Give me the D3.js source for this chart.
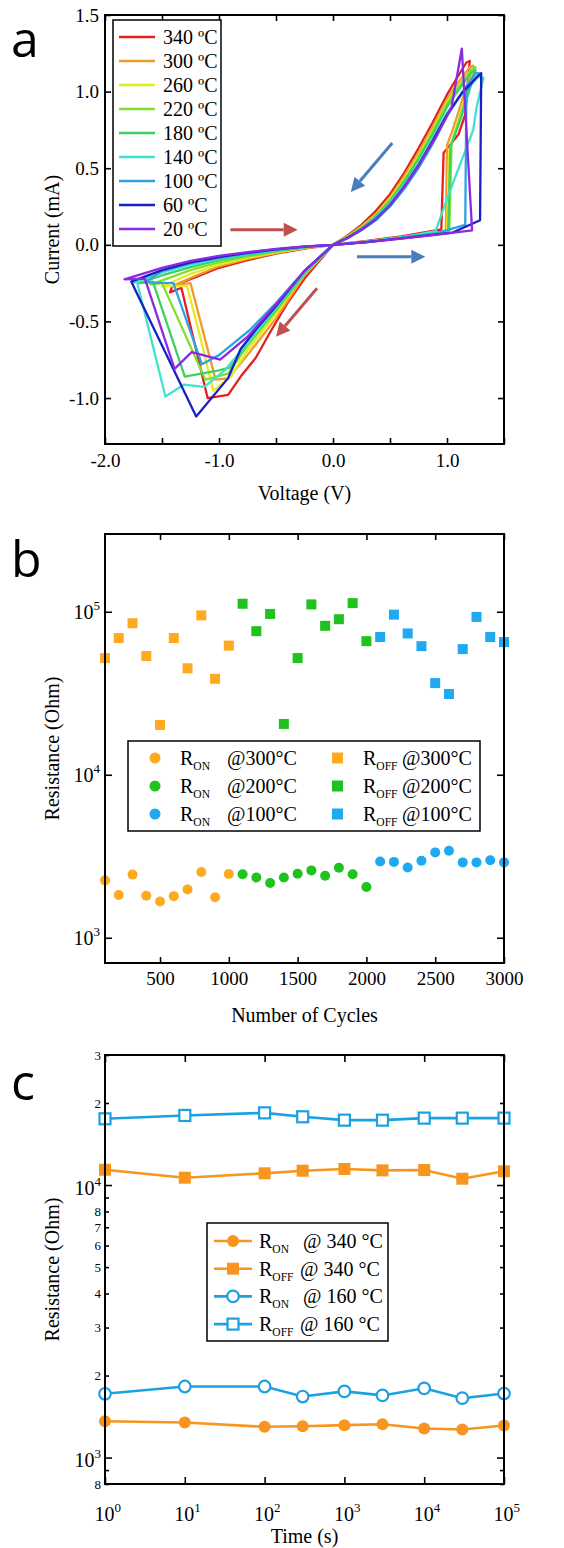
<!DOCTYPE html>
<html>
<head>
<meta charset="utf-8">
<script src="https://cdn.jsdelivr.net/npm/d3@7"></script>
<style>
  body { margin: 0; background: #fff; }
  svg text { font-family: "Liberation Serif", "Times New Roman", serif; fill: #000; }
  svg text.panel { font-family: "Open Sans", sans-serif; }
</style>
</head>
<body>
<script>
// ---------- data ----------
// panel a: I-V loops, [voltage (V), current (mA)]
const ivLabels = ["340 ºC", "300 ºC", "260 ºC", "220 ºC", "180 ºC", "140 ºC", "100 ºC", "60 ºC", "20 ºC"];
const ivCurves = [
  [[0,0],[0.3,0.025],[0.6,0.055],[0.95,0.1],[0.97,0.6],[1.1,0.72],[1.16,0.85],[1.2,1.2],[1.17,1.19],[1.08,1.08],
   [1.0,0.98],[0.875,0.8],[0.75,0.63],[0.625,0.47],[0.5,0.33],[0.375,0.22],[0.25,0.13],[0.125,0.06],[0,0],
   [-0.25,-0.22],[-0.4,-0.38],[-0.54,-0.556],[-0.68,-0.74],[-0.81,-0.86],[-0.92,-0.98],[-1.1,-1.0],[-1.33,-0.28],[-1.43,-0.31],[-1.41,-0.27],
   [-1.2,-0.21],[-1.0,-0.15],[-0.75,-0.1],[-0.5,-0.058],[-0.25,-0.024],[0,0]],
  [[0,0],[0.3,0.022],[0.6,0.05],[0.99,0.085],[1.0,0.65],[1.05,0.75],[1.23,1.17],[1.2,1.16],[1.1,1.06],
   [1.0,0.95],[0.875,0.77],[0.75,0.6],[0.625,0.45],[0.5,0.31],[0.375,0.2],[0.25,0.12],[0.125,0.055],[0,0],
   [-0.25,-0.2],[-0.5,-0.48],[-0.75,-0.72],[-0.92,-0.872],[-1.03,-0.88],[-1.25,-0.25],[-1.38,-0.26],
   [-1.2,-0.2],[-1.0,-0.14],[-0.75,-0.092],[-0.5,-0.054],[-0.25,-0.022],[0,0]],
  [[0,0],[0.3,0.02],[0.6,0.047],[1.0,0.085],[1.02,0.62],[1.08,0.76],[1.24,1.15],[1.21,1.14],[1.1,1.04],
   [1.0,0.93],[0.875,0.75],[0.75,0.58],[0.625,0.43],[0.5,0.3],[0.375,0.195],[0.25,0.115],[0.125,0.052],[0,0],
   [-0.25,-0.19],[-0.5,-0.45],[-0.75,-0.69],[-0.9,-0.862],[-1.05,-0.953],[-1.18,-0.556],[-1.28,-0.27],[-1.5,-0.27],
   [-1.25,-0.19],[-1.0,-0.13],[-0.75,-0.085],[-0.5,-0.05],[-0.25,-0.02],[0,0]],
  [[0,0],[0.3,0.02],[0.6,0.045],[1.02,0.08],[1.04,0.66],[1.1,0.8],[1.25,1.16],[1.22,1.15],[1.1,1.03],
   [1.0,0.92],[0.875,0.74],[0.75,0.57],[0.625,0.42],[0.5,0.29],[0.375,0.19],[0.25,0.11],[0.125,0.05],[0,0],
   [-0.25,-0.19],[-0.5,-0.43],[-0.75,-0.66],[-0.92,-0.84],[-1.12,-0.88],[-1.5,-0.25],[-1.6,-0.26],
   [-1.25,-0.165],[-1.0,-0.115],[-0.75,-0.077],[-0.5,-0.045],[-0.25,-0.018],[0,0]],
  [[0,0],[0.3,0.02],[0.6,0.046],[1.01,0.08],[1.03,0.64],[1.12,0.82],[1.25,1.14],[1.22,1.13],[1.1,1.01],
   [1.0,0.9],[0.875,0.72],[0.75,0.56],[0.625,0.41],[0.5,0.285],[0.375,0.185],[0.25,0.108],[0.125,0.048],[0,0],
   [-0.25,-0.185],[-0.5,-0.42],[-0.75,-0.64],[-0.9,-0.8],[-1.0,-0.82],[-1.3,-0.86],[-1.58,-0.24],[-1.7,-0.25],
   [-1.5,-0.2],[-1.25,-0.145],[-1.0,-0.1],[-0.75,-0.067],[-0.5,-0.04],[-0.25,-0.016],[0,0]],
  [[0,0],[0.3,0.02],[0.6,0.048],[0.9,0.09],[1.0,0.3],[1.23,0.75],[1.26,0.9],[1.32,1.09],[1.28,1.1],[1.15,1.0],
   [1.0,0.86],[0.875,0.69],[0.75,0.53],[0.625,0.39],[0.5,0.27],[0.375,0.175],[0.25,0.1],[0.125,0.045],[0,0],
   [-0.25,-0.18],[-0.5,-0.41],[-0.75,-0.64],[-0.95,-0.82],[-1.13,-0.927],[-1.31,-0.913],[-1.47,-0.99],[-1.72,-0.24],[-1.76,-0.25],
   [-1.5,-0.18],[-1.25,-0.13],[-1.0,-0.09],[-0.75,-0.06],[-0.5,-0.035],[-0.25,-0.014],[0,0]],
  [[0,0],[0.3,0.02],[0.6,0.045],[0.9,0.075],[1.16,0.13],[1.17,1.0],[1.28,1.12],[1.25,1.12],[1.12,0.98],
   [1.0,0.84],[0.875,0.66],[0.75,0.5],[0.625,0.365],[0.5,0.25],[0.375,0.16],[0.25,0.095],[0.125,0.042],[0,0],
   [-0.25,-0.17],[-0.5,-0.38],[-0.73,-0.556],[-1.0,-0.72],[-1.15,-0.78],[-1.4,-0.25],[-1.65,-0.245],
   [-1.5,-0.17],[-1.25,-0.12],[-1.0,-0.085],[-0.75,-0.055],[-0.5,-0.032],[-0.25,-0.013],[0,0]],
  [[0,0],[0.3,0.018],[0.6,0.042],[1.05,0.08],[1.29,0.16],[1.3,1.12],[1.27,1.1],[1.13,0.99],
   [1.0,0.85],[0.875,0.68],[0.75,0.52],[0.625,0.38],[0.5,0.26],[0.375,0.168],[0.25,0.1],[0.125,0.045],[0,0],
   [-0.25,-0.17],[-0.5,-0.4],[-0.68,-0.556],[-0.81,-0.68],[-0.92,-0.87],[-1.2,-1.12],[-1.77,-0.24],
   [-1.5,-0.165],[-1.25,-0.115],[-1.0,-0.08],[-0.75,-0.052],[-0.5,-0.03],[-0.25,-0.012],[0,0]],
  [[0,0],[0.3,0.018],[0.6,0.04],[0.9,0.065],[1.22,0.095],[1.13,1.28],[1.04,0.9],
   [0.9,0.7],[0.75,0.52],[0.625,0.38],[0.5,0.26],[0.375,0.168],[0.25,0.1],[0.125,0.045],[0,0],
   [-0.25,-0.17],[-0.5,-0.39],[-0.75,-0.6],[-0.99,-0.75],[-1.24,-0.7],[-1.39,-0.81],[-1.65,-0.22],[-1.83,-0.225],
   [-1.5,-0.15],[-1.25,-0.105],[-1.0,-0.072],[-0.75,-0.047],[-0.5,-0.027],[-0.25,-0.011],[0,0]]
];
// sweep direction arrows [from, to] in data units
const ivArrowsRed = [[[-0.9,0.098],[-0.31,0.098]], [[-0.14,-0.283],[-0.5,-0.6]]];
const ivArrowsBlue = [[[0.21,-0.078],[0.81,-0.078]], [[0.52,0.665],[0.156,0.345]]];

// panel b: endurance
const cycles300 = [100,200,300,400,500,600,700,800,900,1000];
const cycles200 = [1100,1200,1300,1400,1500,1600,1700,1800,1900,2000];
const cycles100 = [2100,2200,2300,2400,2500,2600,2700,2800,2900,3000];
const ron300  = [2250,1830,2440,1810,1670,1800,1980,2530,1770,2460];
const ron200  = [2450,2340,2170,2340,2470,2590,2400,2690,2450,2050];
const ron100  = [2940,2920,2700,2970,3340,3420,2900,2900,2990,2900];
const roff300 = [52000,69000,85000,53500,20200,69000,45000,95000,38800,62000];
const roff200 = [112000,76000,97000,20500,52000,111000,82000,90000,113000,66000];
const roff100 = [70000,96000,73600,61500,36500,31300,59000,93000,70000,65200];
const bLegendTemps = ["@300°C", "@200°C", "@100°C"];

// panel c: retention
const times   = [1,10,100,300,1000,3000,10000,30000,100000];
const ron340  = [1360,1345,1297,1303,1315,1326,1278,1268,1312];
const roff340 = [11380,10640,11040,11290,11450,11320,11350,10550,11230];
const ron160  = [1714,1823,1823,1675,1749,1691,1795,1652,1718];
const roff160 = [17500,18000,18400,17800,17300,17300,17600,17600,17600];
const cMinorTicks  = [800,900,2000,3000,4000,5000,6000,7000,8000,9000,20000,30000];
const cMinorLabels = ["8","","2","3","4","5","6","7","8","","2","3"];
const cLegendTemps = ["@ 340 °C", "@ 340 °C", "@ 160 °C", "@ 160 °C"];

// ---------- styles ----------
const ivColors = ["#e3201c","#f29a2e","#e4ec1e","#80e02c","#3fd064","#3fe2cf","#2ea2e2","#1a1fc6","#8a2be2"];
const bOrange = "#fdaa1f", bGreen = "#1fc21f", bBlue = "#1ea9f0";
const cOrange = "#f7951e", cBlue = "#1ba1e2";
const serif = "'Liberation Serif', 'Times New Roman', serif";

const svg = d3.select("body").append("svg").attr("width", 564).attr("height", 1548)
  .attr("font-family", serif);

const pw = 399, ph = 429;

function styleAxis(g, size) {
  g.attr("font-family", null).attr("font-size", null);
  g.select(".domain").remove();
  g.selectAll(".tick line").attr("stroke", "#000").attr("stroke-width", 1.6);
  g.selectAll(".tick text").attr("font-family", serif).attr("font-size", size).attr("fill", "#000");
}
function drawFrame(g) {
  g.append("rect").attr("width", pw).attr("height", ph)
    .attr("fill", "none").attr("stroke", "#000").attr("stroke-width", 2);
}
function yTitle(g, txt) {
  g.append("text").attr("transform", `translate(-53,${ph / 2}) rotate(-90)`)
    .attr("text-anchor", "middle").attr("dominant-baseline", "central")
    .attr("font-size", 20).text(txt);
}
function supLabel(sel, base, exp, x, y, anchor) {
  const t = sel.append("text").attr("x", x).attr("y", y).attr("text-anchor", anchor)
    .attr("font-family", serif).attr("font-size", 20);
  t.append("tspan").text(base);
  t.append("tspan").attr("dy", -9).attr("font-size", 13).text(exp);
  return t;
}
function subLabel(sel, base, sub, x, y) {
  const t = sel.append("text").attr("x", x).attr("y", y).attr("font-size", 20);
  t.append("tspan").text(base);
  t.append("tspan").attr("dy", 5).attr("font-size", 11.5).text(sub);
}
function arrow(g, p0, p1, color) {
  const dx = p1[0] - p0[0], dy = p1[1] - p0[1];
  const len = Math.hypot(dx, dy), ux = dx / len, uy = dy / len;
  const hl = 14, hw = 7;
  const bx = p1[0] - ux * hl, by = p1[1] - uy * hl;
  g.append("line").attr("x1", p0[0]).attr("y1", p0[1]).attr("x2", bx).attr("y2", by)
    .attr("stroke", color).attr("stroke-width", 3);
  g.append("path")
    .attr("d", `M${p1[0]},${p1[1]}L${bx - uy * hw},${by + ux * hw}L${bx + uy * hw},${by - ux * hw}Z`)
    .attr("fill", color);
}
const hyph = v => d3.format(".1f")(v).replace("−", "-");

// ================= panel a =================
const ga = svg.append("g").attr("transform", "translate(105,15)");
const xa = d3.scaleLinear().domain([-2.0, 1.5]).range([0, pw]);
const ya = d3.scaleLinear().domain([-1.3, 1.5]).range([ph, 0]);
const aXTicks = [-2.0, -1.5, -1.0, -0.5, 0.0, 0.5, 1.0, 1.5];
const aYTicks = [-1.0, -0.5, 0.0, 0.5, 1.0, 1.5];

ga.append("clipPath").attr("id", "clipA").append("rect").attr("width", pw).attr("height", ph);

const lineA = d3.line().x(d => xa(d[0])).y(d => ya(d[1]));
const curvesG = ga.append("g").attr("clip-path", "url(#clipA)");
ivCurves.forEach((c, i) => {
  curvesG.append("path").attr("d", lineA(c)).attr("fill", "none")
    .attr("stroke", ivColors[i]).attr("stroke-width", 2.3).attr("stroke-linejoin", "round");
});

ivArrowsRed.forEach(a => arrow(ga, [xa(a[0][0]), ya(a[0][1])], [xa(a[1][0]), ya(a[1][1])], "#c0504d"));
ivArrowsBlue.forEach(a => arrow(ga, [xa(a[0][0]), ya(a[0][1])], [xa(a[1][0]), ya(a[1][1])], "#4a7ebb"));

ga.append("g").attr("transform", `translate(0,${ph})`)
  .call(d3.axisBottom(xa).tickValues(aXTicks).tickSize(-6).tickPadding(10)
    .tickFormat(d => Number.isInteger(d) ? hyph(d) : ""))
  .call(g => styleAxis(g, 19));
ga.append("g").call(d3.axisTop(xa).tickValues(aXTicks).tickSize(-6).tickFormat(""))
  .call(g => styleAxis(g, 19));
ga.append("g").call(d3.axisLeft(ya).tickValues(aYTicks).tickSize(-6).tickPadding(6).tickFormat(hyph))
  .call(g => styleAxis(g, 19));
ga.append("g").attr("transform", `translate(${pw},0)`)
  .call(d3.axisRight(ya).tickValues(aYTicks).tickSize(-6).tickFormat(""))
  .call(g => styleAxis(g, 19));

// legend a
const la = ga.append("g").attr("transform", "translate(8,5)");
la.append("rect").attr("width", 108).attr("height", 226).attr("fill", "#fff")
  .attr("stroke", "#000").attr("stroke-width", 1.5);
ivLabels.forEach((t, i) => {
  const yy = 17 + i * 24;
  la.append("line").attr("x1", 6).attr("x2", 42).attr("y1", yy).attr("y2", yy)
    .attr("stroke", ivColors[i]).attr("stroke-width", 2.3);
  la.append("text").attr("x", 50).attr("y", yy + 7).attr("font-size", 20).text(t);
});

drawFrame(ga);
ga.append("text").attr("x", pw / 2).attr("y", 485).attr("text-anchor", "middle").attr("font-size", 20).text("Voltage (V)");
yTitle(ga, "Current (mA)");
svg.append("text").attr("class", "panel").attr("x", 11).attr("y", 57).attr("font-size", 50).text("a");

// ================= panel b =================
const gb = svg.append("g").attr("transform", "translate(105,534)");
const xb = d3.scaleLinear().domain([100, 3000]).range([0, pw]);
const yb = d3.scaleLog().domain([700, 3e5]).range([ph, 0]);
const bXTicks = [500, 1000, 1500, 2000, 2500, 3000];
const bYTicks = [1e3, 1e4, 1e5];

gb.append("g").attr("transform", `translate(0,${ph})`)
  .call(d3.axisBottom(xb).tickValues(bXTicks).tickSize(-6).tickPadding(9).tickFormat(d3.format("d")))
  .call(g => styleAxis(g, 19));
gb.append("g").call(d3.axisTop(xb).tickValues(bXTicks).tickSize(-6).tickFormat(""))
  .call(g => styleAxis(g, 19));
gb.append("g").call(d3.axisLeft(yb).tickValues(bYTicks).tickSize(-7).tickFormat(""))
  .call(g => styleAxis(g, 19))
  .call(g => g.selectAll(".tick").each(function (d) {
    supLabel(d3.select(this), "10", String(Math.round(Math.log10(d))), -5, 7, "end");
  }));
gb.append("g").attr("transform", `translate(${pw},0)`)
  .call(d3.axisRight(yb).tickValues(bYTicks).tickSize(-7).tickFormat(""))
  .call(g => styleAxis(g, 19));

const bSets = [
  [cycles300, ron300, roff300, bOrange],
  [cycles200, ron200, roff200, bGreen],
  [cycles100, ron100, roff100, bBlue]
];
const bs = 10;
bSets.forEach(([cx, on, off, col]) => {
  gb.append("g").selectAll("circle").data(cx).join("circle")
    .attr("cx", d => xb(d)).attr("cy", (d, i) => yb(on[i])).attr("r", 5).attr("fill", col);
  gb.append("g").selectAll("rect").data(cx).join("rect")
    .attr("x", d => xb(d) - bs / 2).attr("y", (d, i) => yb(off[i]) - bs / 2)
    .attr("width", bs).attr("height", bs).attr("fill", col);
});

// legend b
const lb = gb.append("g").attr("transform", "translate(23,207)");
lb.append("rect").attr("width", 352).attr("height", 90).attr("fill", "#fff")
  .attr("stroke", "#000").attr("stroke-width", 1.5);
bSets.forEach((s, i) => {
  const yy = 17 + i * 28;
  lb.append("circle").attr("cx", 27).attr("cy", yy).attr("r", 5.5).attr("fill", s[3]);
  subLabel(lb, "R", "ON", 52, yy + 7);
  lb.append("text").attr("x", 99).attr("y", yy + 7).attr("font-size", 20).text(bLegendTemps[i]);
  lb.append("rect").attr("x", 204).attr("y", yy - 5.5).attr("width", 11).attr("height", 11).attr("fill", s[3]);
  subLabel(lb, "R", "OFF", 235, yy + 7);
  lb.append("text").attr("x", 274).attr("y", yy + 7).attr("font-size", 20).text(bLegendTemps[i]);
});

drawFrame(gb);
gb.append("text").attr("x", pw / 2).attr("y", 488).attr("text-anchor", "middle").attr("font-size", 20).text("Number of Cycles");
yTitle(gb, "Resistance (Ohm)");
svg.append("text").attr("class", "panel").attr("x", 11).attr("y", 577).attr("font-size", 50).text("b");

// ================= panel c =================
const gc = svg.append("g").attr("transform", "translate(105,1055)");
const xc = d3.scaleLog().domain([1, 1e5]).range([0, pw]);
const yc = d3.scaleLog().domain([800, 30000]).range([ph, 0]);
const cXTicks = [1, 10, 100, 1000, 10000, 100000];
const cYTicks = [1e3, 1e4];

gc.append("g").attr("transform", `translate(0,${ph})`)
  .call(d3.axisBottom(xc).tickValues(cXTicks).tickSize(-7).tickFormat(""))
  .call(g => styleAxis(g, 19))
  .call(g => g.selectAll(".tick").each(function (d) {
    supLabel(d3.select(this), "10", String(Math.round(Math.log10(d))), -11, 37, "start");
  }));
gc.append("g").call(d3.axisTop(xc).tickValues(cXTicks).tickSize(-7).tickFormat(""))
  .call(g => styleAxis(g, 19));
gc.append("g").call(d3.axisLeft(yc).tickValues(cYTicks).tickSize(-7).tickFormat(""))
  .call(g => styleAxis(g, 19))
  .call(g => g.selectAll(".tick").each(function (d) {
    supLabel(d3.select(this), "10", String(Math.round(Math.log10(d))), -4, 9, "end");
  }));
gc.append("g").call(d3.axisLeft(yc).tickValues(cMinorTicks).tickSize(-4).tickPadding(4)
    .tickFormat((d, i) => cMinorLabels[i]))
  .call(g => styleAxis(g, 13));
gc.append("g").attr("transform", `translate(${pw},0)`)
  .call(d3.axisRight(yc).tickValues(cYTicks).tickSize(-7).tickFormat(""))
  .call(g => styleAxis(g, 19));
gc.append("g").attr("transform", `translate(${pw},0)`)
  .call(d3.axisRight(yc).tickValues(cMinorTicks).tickSize(-4).tickFormat(""))
  .call(g => styleAxis(g, 13));

const lineC = vals => d3.line().x((d, i) => xc(times[i])).y(d => yc(d))(vals);
const cSeries = [
  [ron340, cOrange, "circle", true],
  [roff340, cOrange, "square", true],
  [ron160, cBlue, "circle", false],
  [roff160, cBlue, "square", false]
];
function marker(sel, kind, col, filled, x, y) {
  if (kind === "circle") {
    sel.append("circle").attr("cx", x).attr("cy", y).attr("r", filled ? 6 : 5.8)
      .attr("fill", filled ? col : "#fff").attr("stroke", col).attr("stroke-width", filled ? 0 : 2.2);
  } else {
    const s = filled ? 12 : 11;
    sel.append("rect").attr("x", x - s / 2).attr("y", y - s / 2).attr("width", s).attr("height", s)
      .attr("fill", filled ? col : "#fff").attr("stroke", col).attr("stroke-width", filled ? 0 : 2.2);
  }
}
cSeries.forEach(([vals, col, kind, filled]) => {
  gc.append("path").attr("d", lineC(vals)).attr("fill", "none").attr("stroke", col).attr("stroke-width", 2.6);
  const mg = gc.append("g");
  vals.forEach((v, i) => marker(mg, kind, col, filled, xc(times[i]), yc(v)));
});

// legend c
const lc = gc.append("g").attr("transform", "translate(102,168)");
lc.append("rect").attr("width", 181).attr("height", 118).attr("fill", "#fff")
  .attr("stroke", "#000").attr("stroke-width", 1.5);
cSeries.forEach(([vals, col, kind, filled], i) => {
  const yy = 18 + i * 27.7;
  lc.append("line").attr("x1", 7).attr("x2", 45).attr("y1", yy).attr("y2", yy).attr("stroke", col).attr("stroke-width", 2.6);
  marker(lc, kind, col, filled, 26, yy);
  subLabel(lc, "R", i % 2 === 0 ? "ON" : "OFF", 52, yy + 7);
  lc.append("text").attr("x", i % 2 === 0 ? 96 : 93).attr("y", yy + 7).attr("font-size", 20).text(cLegendTemps[i]);
});

drawFrame(gc);
gc.append("text").attr("x", pw / 2).attr("y", 488).attr("text-anchor", "middle").attr("font-size", 20).text("Time (s)");
yTitle(gc, "Resistance (Ohm)");
svg.append("text").attr("class", "panel").attr("x", 11).attr("y", 1100).attr("font-size", 50).text("c");
</script>
</body>
</html>
